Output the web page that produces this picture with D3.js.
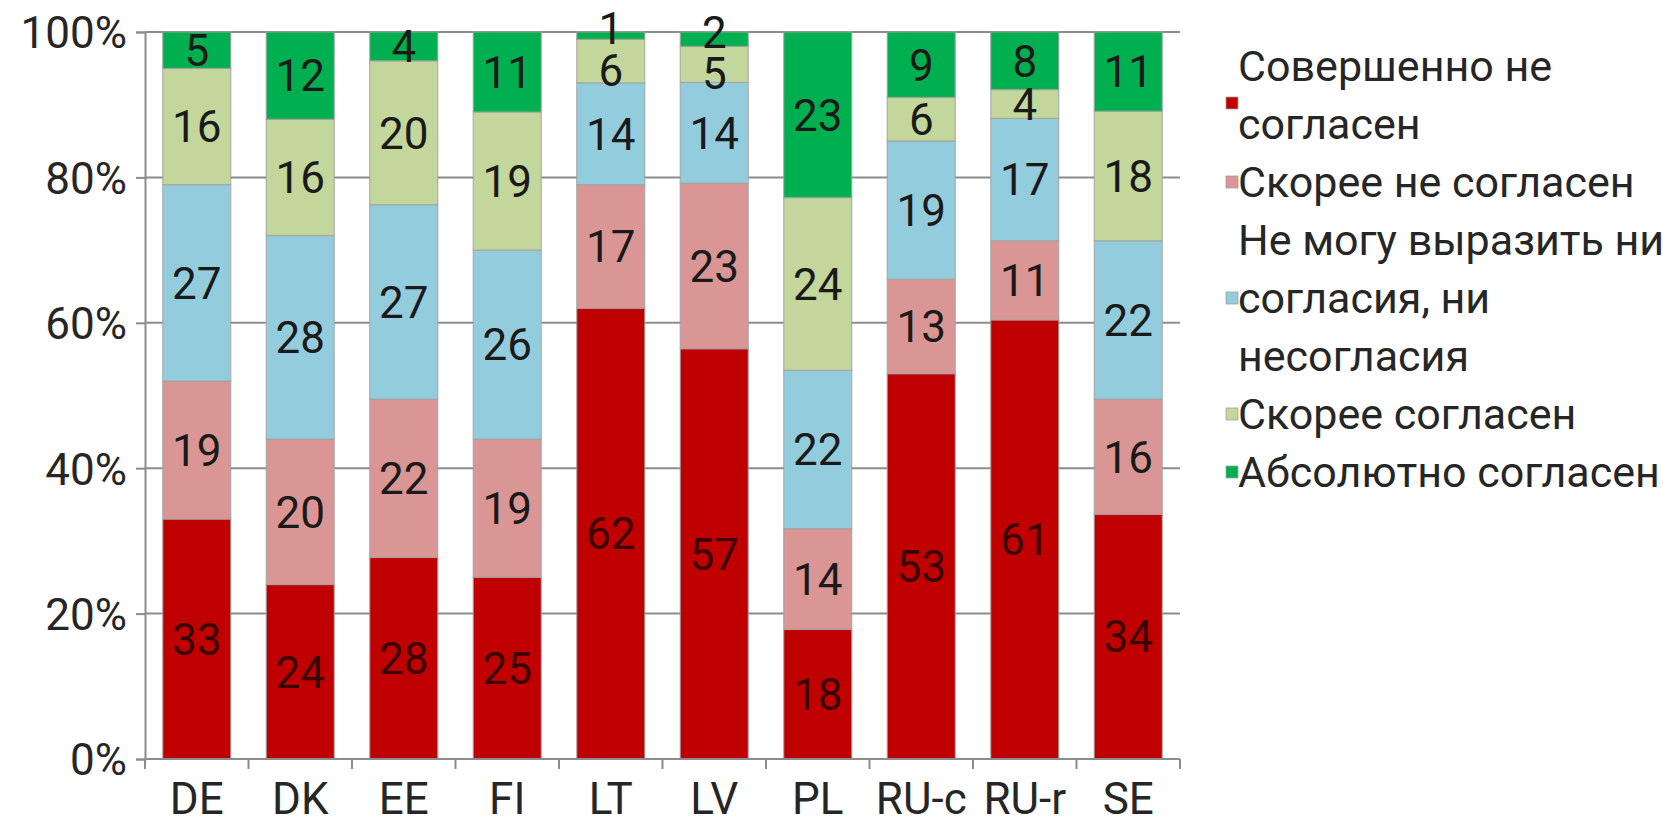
<!DOCTYPE html>
<html><head><meta charset="utf-8">
<script src="https://cdn.jsdelivr.net/npm/d3@7/dist/d3.min.js"></script>
<style>
html,body{margin:0;padding:0;background:#fff;}
svg text{font-family:Roboto,"Open Sans",sans-serif;}
</style></head>
<body>
<svg id="chart" width="1663" height="827"></svg>
<script>
const categories = ["DE","DK","EE","FI","LT","LV","PL","RU-c","RU-r","SE"];
const seriesNames = ["Совершенно не\nсогласен","Скорее не согласен","Не могу выразить ни\nсогласия, ни\nнесогласия","Скорее согласен","Абсолютно согласен"];
const sDisagreeFully = [33,24,28,25,62,57,18,53,61,34];
const sDisagree      = [19,20,22,19,17,23,14,13,11,16];
const sNeutral       = [27,28,27,26,14,14,22,19,17,22];
const sAgree         = [16,16,20,19,6,5,24,6,4,18];
const sAgreeFully    = [5,12,4,11,1,2,23,9,8,11];
const yTicks = [0,0.2,0.4,0.6,0.8,1];
const colors = ["#C00000","#DA9694","#93CDDD","#C3D69B","#00B050"];

const series = [sDisagreeFully,sDisagree,sNeutral,sAgree,sAgreeFully];
const svg = d3.select("#chart");
const L=145, R=1180, T=32, B=759;
const x = d3.scaleBand().domain(categories).range([L,R]).paddingInner(0.343).paddingOuter(0.1715);
const y = d3.scaleLinear().domain([0,1]).range([B,T]);
const fs = 44;

// gridlines
svg.append("g").selectAll("line").data(yTicks).join("line")
  .attr("x1",L).attr("x2",R).attr("y1",d=>y(d)).attr("y2",d=>y(d))
  .attr("stroke","#8c8c8c").attr("stroke-width",2);

// y axis
const ya = svg.append("g").attr("transform",`translate(${L},0)`)
  .call(d3.axisLeft(y).tickValues(yTicks).tickFormat(d3.format(".0%")).tickSize(9).tickPadding(9));
ya.select(".domain").attr("stroke","#8c8c8c").attr("stroke-width",2);
ya.selectAll(".tick line").attr("stroke","#8c8c8c").attr("stroke-width",2);
ya.selectAll(".tick text").attr("font-size",fs).attr("fill","#262626").attr("dy","0.36em");

// stacking
const rows = categories.map((c,i)=>{
  const vals = series.map(s=>s[i]);
  const tot = d3.sum(vals);
  let acc = 0;
  const r = vals.map((v,k)=>{const y0=acc/tot; acc+=v; return {cat:c,k,v,y0,y1:acc/tot};});
  // nudge labels apart when the top segment is very thin
  const top = r[r.length-1];
  if (top.y1 - top.y0 < 0.03) { top.off = -7; r[r.length-2].off = 9; }
  return r;
}).flat();

svg.append("g").selectAll("rect").data(rows).join("rect")
  .attr("x",d=>x(d.cat)).attr("width",x.bandwidth())
  .attr("y",d=>y(d.y1)).attr("height",d=>y(d.y0)-y(d.y1))
  .attr("fill",d=>colors[d.k])
  .attr("stroke","#a0a0a0").attr("stroke-width",1.2).attr("stroke-opacity",0.8);

// labels
svg.append("g").selectAll("text").data(rows).join("text")
  .attr("x",d=>x(d.cat)+x.bandwidth()/2)
  .attr("y",d=>y((d.y0+d.y1)/2)+(d.off||0))
  .attr("dy","0.36em")
  .attr("text-anchor","middle").attr("font-size",fs)
  .attr("fill",d=>d.k===0?"#3a0000":"#1a1a1a")
  .text(d=>d.v);

// x axis
const xa = svg.append("g").attr("transform",`translate(0,${B})`)
  .call(d3.axisBottom(x).tickSize(0).tickPadding(24));
xa.select(".domain").remove();
xa.selectAll(".tick text").attr("font-size",fs).attr("fill","#262626").attr("dy","0.71em");
svg.append("line").attr("x1",L).attr("x2",R).attr("y1",B).attr("y2",B).attr("stroke","#8c8c8c").attr("stroke-width",2);
svg.append("g").selectAll("line").data(d3.range(categories.length+1)).join("line")
  .attr("x1",i=>L+i*x.step()).attr("x2",i=>L+i*x.step())
  .attr("y1",B).attr("y2",B+10).attr("stroke","#8c8c8c").attr("stroke-width",2);

// legend
const lg = svg.append("g");
const lineH = 58;
const legendTop = 66;
let cy = legendTop;
seriesNames.forEach((name,k)=>{
  const lines = name.split("\n");
  const g = lg.append("g");
  lines.forEach((ln,j)=>{
    g.append("text").attr("x",1238).attr("y",cy+j*lineH).attr("dy","0.36em")
      .attr("font-size",43).attr("fill","#262626").text(ln);
  });
  const my = cy + (lines.length-1)*lineH/2 + (lines.length===2?8:0);
  g.append("rect").attr("x",1226).attr("y",my-6).attr("width",12).attr("height",12)
    .attr("fill",colors[k]).attr("stroke","#a0a0a0").attr("stroke-width",0.8);
  cy += lines.length*lineH;
});
</script>
</body></html>
